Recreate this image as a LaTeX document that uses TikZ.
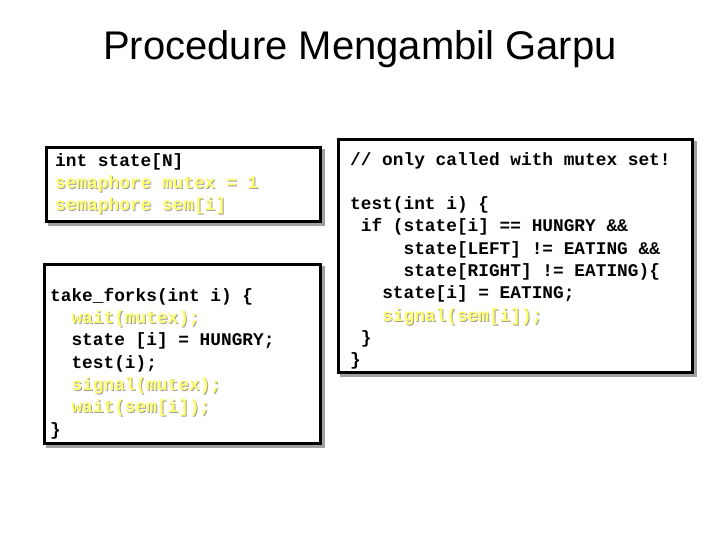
\documentclass[tikz,border=0pt]{standalone}
\usepackage{fontspec}
\setmainfont{Liberation Sans}
\setmonofont{Liberation Mono}
\usepackage{xcolor}
\definecolor{yel}{RGB}{255,255,110}
\definecolor{shd}{RGB}{160,160,160}
\newcommand{\yl}[1]{\rlap{\hspace{1pt}\raisebox{-1pt}{\color{shd}#1}}{\color{yel}#1}}
\begin{document}
\begin{tikzpicture}[x=1pt,y=-1pt,
  codebox/.style={draw=black,line width=3pt,fill=white},
  shadowbox/.style={draw=shd,line width=3pt},
  code/.style={anchor=north west,align=left,inner sep=0pt,font=\ttfamily\bfseries\fontsize{17.8}{22.3}\selectfont}]
\useasboundingbox (0,0) rectangle (720,540);
\node[font=\fontsize{40}{46}\selectfont] (title) at (360,49) {Procedure Mengambil Garpu};
% box 1
\draw[shadowbox] (49,151) rectangle (323,225);
\draw[codebox] (46,148) rectangle (320,222);
\node[code] (b1) at (55,153) {int state[N]\\\yl{semaphore mutex = 1}\\\yl{semaphore sem[i]}};
% box 2
\draw[shadowbox] (47,267) rectangle (323,446);
\draw[codebox] (44,264) rectangle (320,443);
\node[code] (b2) at (50,288) {take\_forks(int i) \{\\
\ \ \yl{wait(mutex);}\\
\ \ state [i] = HUNGRY;\\
\ \ test(i);\\
\ \ \yl{signal(mutex);}\\
\ \ \yl{wait(sem[i]);}\\
\}};
% box 3
\draw[shadowbox] (341,143) rectangle (695,375);
\draw[codebox] (338,140) rectangle (692,372);
\node[code] (b3) at (350,152) {// only called with mutex set!\\[22.3pt]
test(int i) \{\\
\ if (state[i] == HUNGRY \&\&\\
\ \ \ \ \ state[LEFT] != EATING \&\&\\
\ \ \ \ \ state[RIGHT] != EATING)\{\\
\ \ \ state[i] = EATING;\\
\ \ \ \yl{signal(sem[i]);}\\
\ \}\\
\}};
\end{tikzpicture}
\end{document}
